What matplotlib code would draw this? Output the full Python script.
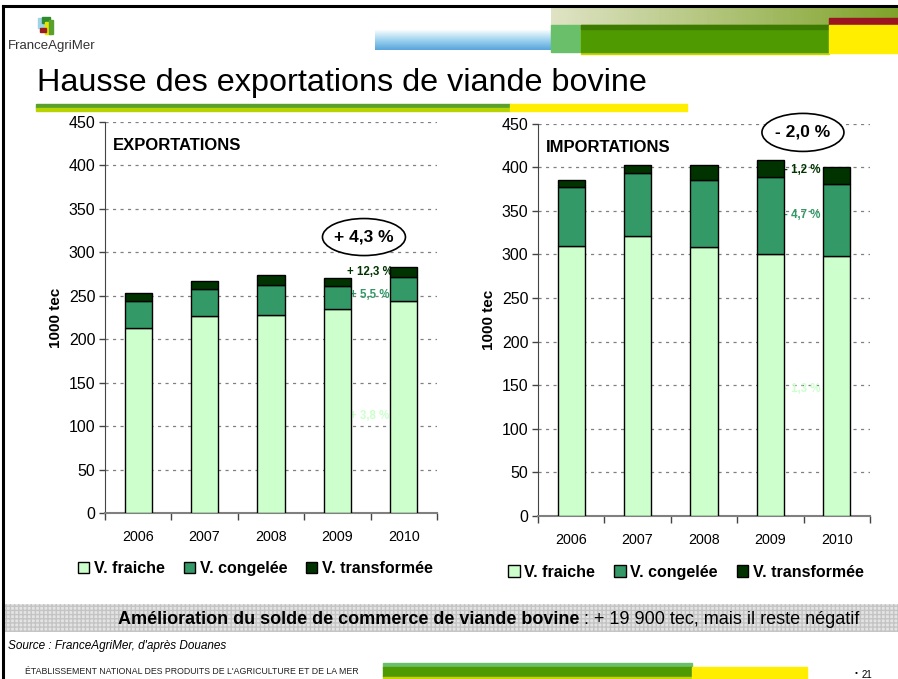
import numpy as np
import matplotlib
matplotlib.use("Agg")
import matplotlib.pyplot as plt
from matplotlib.patches import Rectangle, Ellipse
from matplotlib.colors import LinearSegmentedColormap

plt.rcParams["font.family"] = ["Liberation Sans", "DejaVu Sans"]

# ------------------------------------------------------------
# Données (1000 tec)
# ------------------------------------------------------------
annees = ["2006", "2007", "2008", "2009", "2010"]

exp_fraiche = [213, 227, 228, 235, 244]
exp_congelee = [31, 31, 34, 26, 28]
exp_transformee = [9, 9, 12, 10, 11]

imp_fraiche = [310, 321, 308, 301, 298]
imp_congelee = [67, 73, 77, 88, 83]
imp_transformee = [8, 9, 18, 19, 19]

series = ["V. fraiche", "V. congelée", "V. transformée"]
couleurs = ["#ccffcc", "#339966", "#003300"]

# variations 2010/2009 : (texte, couleur, x, y)
exp_var = [("+ 12,3 %", "#003300", 3.14, 277),
           ("+ 5,5 %", "#339966", 3.19, 251),
           ("+ 3,8 %", "#ccffcc", 3.19, 112)]
imp_var = [("- 1,2 %", "#003300", 3.2, 397),
           ("- 4,7 %", "#339966", 3.2, 345),
           ("- 1,3 %", "#ccffcc", 3.2, 146)]

W, H = 898, 679
fig = plt.figure(figsize=(W / 100, H / 100), dpi=100)

# ------------------------------------------------------------
# Fond de la diapositive (coordonnées pixels)
# ------------------------------------------------------------
bg = fig.add_axes([0, 0, 1, 1], zorder=0)
bg.set_xlim(0, W)
bg.set_ylim(H, 0)
bg.axis("off")

# cadre
bg.plot([3, 3], [6, H], color="black", lw=2.2)
bg.plot([3, W], [6, 6], color="black", lw=2.2)

# logo
bg.add_patch(Rectangle((38, 18), 8, 10, color="#9fd4e8"))
bg.add_patch(Rectangle((42, 17), 8, 6, color="#2e8b2e"))
bg.add_patch(Rectangle((45, 22), 6, 12, color="#e8e400"))
bg.add_patch(Rectangle((40, 28), 6, 4, color="#9b1c1c"))
bg.add_patch(Rectangle((49, 20), 4, 14, color="#5aa02c"))
bg.text(8, 46, "FranceAgriMer", fontsize=9.5, color="#333333", va="center",
        family=["Liberation Sans Narrow", "Liberation Sans"])

# bandeau haut
cm_bleu = LinearSegmentedColormap.from_list("bleu", ["#f2fafd", "#9fd3ef", "#5aa6dd"])
grad_blue = np.linspace(0, 1, 20).reshape(-1, 1)
bg.imshow(grad_blue, extent=(375, 551, 50, 30), cmap=cm_bleu, aspect="auto", zorder=1)
grad_g = np.linspace(0, 1, 100).reshape(1, -1)
cm_olive = LinearSegmentedColormap.from_list("olive", ["#dfe3c4", "#7fa32a"])
bg.imshow(grad_g, extent=(551, W, 25, 8), cmap=cm_olive, aspect="auto", zorder=1)
bg.add_patch(Rectangle((829, 18), W - 829, 7, color="#9b1520", zorder=2))
bg.add_patch(Rectangle((551, 25), 30, 27, color="#6abf6a", zorder=2))
bg.add_patch(Rectangle((581, 26), 248, 28, color="#c8d400", zorder=2))
bg.add_patch(Rectangle((581, 25), 248, 27, color="#4f9a00", zorder=2))
bg.add_patch(Rectangle((581, 25), 248, 4, color="#3d7a00", zorder=2))
bg.add_patch(Rectangle((829, 25), W - 829, 28, color="#ffee00", zorder=2))

# titre
bg.text(37, 83, "Hausse des exportations de viande bovine", fontsize=23.3,
        va="center", ha="left", color="black")
bg.add_patch(Rectangle((36, 104), 474, 4, color="#5aa02c"))
bg.add_patch(Rectangle((36, 108), 474, 3, color="#b8d400"))
bg.add_patch(Rectangle((510, 104), 177, 7, color="#ffee00"))

# bandeau bas
bg.add_patch(Rectangle((5, 604), W - 5, 28, facecolor="#e4e4e4",
                       edgecolor="#c4c4c4", hatch="++++", lw=0))
t1 = bg.text(118, 619, "Amélioration du solde de commerce de viande bovine",
             fontsize=13, fontweight="bold", va="center", ha="left")
bg.annotate(" : + 19 900 tec, mais il reste négatif", xy=(1, 0.5), xycoords=t1,
            fontsize=13, va="center", ha="left")
bg.text(8, 646, "Source : FranceAgriMer, d'après Douanes", fontsize=8.5,
        style="italic", va="center")
bg.text(25, 671, "ÉTABLISSEMENT NATIONAL DES PRODUITS DE L'AGRICULTURE ET DE LA MER",
        fontsize=6.3, va="center", color="#222222",
        family=["Liberation Sans Narrow", "Liberation Sans"])
bg.add_patch(Rectangle((383, 663), 309, 5, color="#6abf6a"))
bg.add_patch(Rectangle((383, 667), 309, 10, color="#4f9a00"))
bg.add_patch(Rectangle((383, 677), 309, 2, color="#c8d400"))
bg.add_patch(Rectangle((692, 667), 115, 12, color="#ffee00"))
bg.text(855, 677, "•", fontsize=6, va="bottom")
bg.text(862, 680, "21", fontsize=7, va="bottom")

# ------------------------------------------------------------
# Graphiques
# ------------------------------------------------------------
def trace(ax, fraiche, congelee, transformee, titre, variations, ellipse, ell_txt, leg_x):
    x = np.arange(len(annees))
    bas = np.zeros(len(annees))
    for vals, coul, lab in zip([fraiche, congelee, transformee], couleurs, series):
        ax.bar(x, vals, bottom=bas, width=0.41, color=coul, edgecolor="black",
               linewidth=1.0, label=lab, zorder=3)
        bas = bas + np.array(vals)

    ax.set_xlim(-0.5, len(annees) - 0.5)
    ax.set_ylim(0, 450)
    ax.set_yticks(np.arange(0, 451, 50))
    ax.tick_params(axis="y", labelsize=11.5, length=4, width=1, color="#444444", pad=3)
    ax.set_xticks(x)
    ax.set_xticklabels(annees, fontsize=10.3)
    ax.tick_params(axis="x", length=0, pad=12)
    ax.set_xticks(np.arange(-0.5, len(annees)), minor=True)
    ax.tick_params(axis="x", which="minor", length=5, width=1, color="#444444")
    ax.grid(axis="y", linestyle=(0, (2.5, 3.5)), color="#808080", linewidth=0.9, zorder=0)
    for s in ["top", "right"]:
        ax.spines[s].set_visible(False)
    ax.spines["left"].set_color("#444444")
    ax.spines["bottom"].set_color("#808080")
    ax.spines["bottom"].set_linewidth(1.5)
    ax.set_facecolor("none")
    ax.set_ylabel("1000 tec", fontsize=11, fontweight="bold", labelpad=4)

    ax.text(0.025, 0.94, titre, transform=ax.transAxes, fontsize=12,
            fontweight="bold", va="center", ha="left")

    for txt, coul, xx, yy in variations:
        ax.text(xx, yy, txt, color=coul, fontsize=8.3, fontweight="bold",
                va="center", ha="left", zorder=2)

    cx, cy, ew, eh = ellipse
    ax.add_patch(Ellipse((cx, cy), ew, eh, facecolor="white", edgecolor="black",
                         linewidth=1.2, clip_on=False, zorder=5))
    ax.text(cx, cy, ell_txt, fontsize=12.5, fontweight="bold", ha="center",
            va="center", zorder=6, clip_on=False)

    ax.legend(loc="center", bbox_to_anchor=(leg_x, -0.143), ncol=3, frameon=False,
              prop={"size": 11.5, "weight": "bold"}, handlelength=0.7,
              handleheight=0.7, handletextpad=0.3, columnspacing=1.2)


ax1 = fig.add_axes([105 / W, 1 - 513 / H, 332 / W, 391 / H], zorder=2)
trace(ax1, exp_fraiche, exp_congelee, exp_transformee, "EXPORTATIONS",
      exp_var, (3.4, 317.6, 1.25, 42.6), "+ 4,3 %", 0.453)

ax2 = fig.add_axes([538 / W, 1 - 516 / H, 332 / W, 392.3 / H], zorder=2)
trace(ax2, imp_fraiche, imp_congelee, imp_transformee, "IMPORTATIONS",
      imp_var, (3.49, 440, 1.235, 43.6), "- 2,0 %", 0.446)

fig.savefig("out.png", dpi=100)
